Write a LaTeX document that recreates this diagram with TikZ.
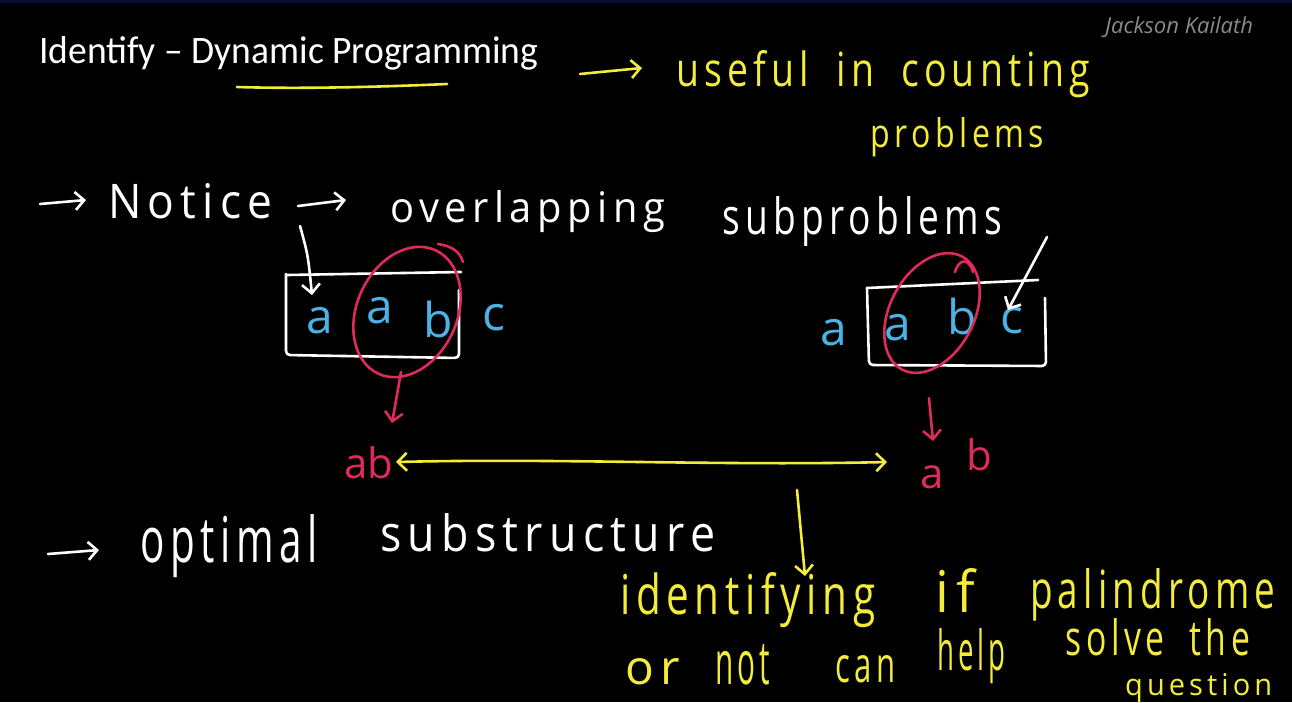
\documentclass[tikz,border=0pt]{standalone}
\usepackage{fontspec}
\usepackage{graphicx}
\usetikzlibrary{arrows.meta}
\setmainfont{Carlito}
\newfontfamily\handfont{Open Sans}[LetterSpace=14, WordSpace=1.8]
\newfontfamily\handtight{Open Sans}
\newfontfamily\signfont{Open Sans}
\definecolor{hwyellow}{HTML}{F4EC3A}
\definecolor{hwred}{HTML}{E02A5A}
\definecolor{hwblue}{HTML}{4BB2E6}
\definecolor{signgray}{HTML}{8A8A8A}
\definecolor{topband}{HTML}{0B0B3A}
% handwritten word: width, height, text
\newcommand{\hw}[3]{\resizebox{#1pt}{#2pt}{\handfont #3}}
\tikzset{
  hand/.style={inner sep=0pt, anchor=base west},
  letter/.style={inner sep=0pt, anchor=base, font=\handtight\fontsize{48}{48}\selectfont},
  redletter/.style={inner sep=0pt, anchor=base, text=hwred, font=\handtight\fontsize{42}{42}\selectfont},
  pen/.style={line width=2.6pt, line cap=round, line join=round},
  barb/.style={-{Straight Barb[length=9pt,width=18pt]}},
  dbarb/.style={{Straight Barb[length=9pt,width=18pt]}-{Straight Barb[length=9pt,width=18pt]}}
}
\begin{document}
\begin{tikzpicture}[x=1pt,y=-1pt]
\fill[black] (0,0) rectangle (1292,702);
\fill[topband] (0,0) rectangle (1292,3);
\useasboundingbox (0,0) rectangle (1292,702);

% heading and author
\node[anchor=base west, inner sep=0pt, text=white] (title) at (39,63)
  {\resizebox{499pt}{27pt}{Identify – Dynamic Programming}};
\node[anchor=base west, inner sep=0pt, text=signgray] (author) at (1105,33)
  {\resizebox{148pt}{!}{\signfont\itshape Jackson Kailath}};
\coordinate (ulA) at (237,87);
\coordinate (ulB) at (447,84);
\draw[pen, hwyellow] (ulA) .. controls (300,89) and (380,87) .. (ulB);

% yellow note at the top
\coordinate (n1a) at (580,74);
\coordinate (n1b) at (642,68);
\draw[pen, hwyellow, barb] (n1a) -- (n1b);
\node[hand, text=hwyellow] (useful) at (676,86) {\hw{414}{36}{useful in counting}};
\node[hand, text=hwyellow] (problems) at (870,147) {\hw{174}{30}{problems}};

% notice line
\coordinate (a1a) at (40,204);
\coordinate (a1b) at (86,200);
\draw[pen, white, barb] (a1a) -- (a1b);
\node[hand, text=white] (notice) at (108,218) {\hw{164}{35}{Notice}};
\coordinate (a2a) at (298,206);
\coordinate (a2b) at (346,200);
\draw[pen, white, barb] (a2a) -- (a2b);
\node[hand, text=white] (overlap) at (390,222) {\hw{275}{32}{overlapping}};
\node[hand, text=white] (subp) at (722,234) {\hw{280}{38}{subproblems}};

% left string
\draw[pen, white, rounded corners=4pt] (286,274) -- (286,355) -- (459,358) -- (459,290);
\draw[pen, white] (287,275) -- (461,272);
\node[letter, text=hwblue] (la1) at (320,333) {a};
\node[letter, text=hwblue] (la2) at (380,323) {a};
\node[letter, text=hwblue] (lb)  at (438,337) {b};
\node[letter, text=hwblue] (lc)  at (494,330) {c};
\coordinate (wl0) at (300,226);
\coordinate (wl1) at (312,295);
\draw[pen, white, barb] (wl0) .. controls (308,255) .. (wl1);
\draw[pen, hwred, shift={(407,312)}, rotate=-25] (0,0) ellipse [x radius=50pt, y radius=68pt];
\draw[pen, hwred] (438,244) .. controls (452,246) and (460,252) .. (463,262);
\coordinate (rl0) at (401,372);
\coordinate (rl1) at (392,423);
\draw[pen, hwred, barb] (rl0) -- (rl1);
\node[redletter] (ab) at (369,478) {ab};

% right string
\draw[pen, white, rounded corners=4pt] (867,288) -- (869,365) -- (1046,366) -- (1045,298);
\draw[pen, white] (867,288) -- (1038,280);
\node[letter, text=hwblue] (ra0) at (834,345) {a};
\node[letter, text=hwblue] (ra1) at (898,340) {a};
\node[letter, text=hwblue] (rb)  at (962,334) {b};
\node[letter, text=hwblue] (rc)  at (1012,333) {c};
\coordinate (wr0) at (1047,237);
\coordinate (wr1) at (1008,310);
\draw[pen, white, barb] (wr0) -- (wr1);
\draw[pen, hwred, shift={(932,313)}, rotate=-28] (0,0) ellipse [x radius=42pt, y radius=64pt];
\draw[pen, hwred] (955,272) .. controls (959,258) and (969,258) .. (973,272);
\coordinate (rr0) at (929,398);
\coordinate (rr1) at (933,441);
\draw[pen, hwred, barb] (rr0) -- (rr1);
\node[redletter] (ra) at (932,488) {a};
\node[redletter] (rbb) at (979,470) {b};

% link between the two results
\coordinate (lk0) at (396,462);
\coordinate (lk1) at (887,462);
\draw[pen, hwyellow, dbarb] (lk0) .. controls (560,458) and (720,466) .. (lk1);

% optimal substructure line
\coordinate (a3a) at (48,554);
\coordinate (a3b) at (99,550);
\draw[pen, white, barb] (a3a) -- (a3b);
\node[hand, text=white] (optimal) at (140,562) {\hw{178}{48}{optimal}};
\node[hand, text=white] (substr) at (380,551) {\hw{335}{38}{substructure}};

% yellow note at the bottom
\coordinate (yd0) at (797,490);
\coordinate (yd1) at (805,576);
\draw[pen, hwyellow, barb] (yd0) -- (yd1);
\node[hand, text=hwyellow] (ident) at (620,614) {\hw{255}{42}{identifying}};
\node[hand, text=hwyellow] (if) at (935,612) {\hw{40}{44}{if}};
\node[hand, text=hwyellow] (palin) at (1030,608) {\hw{245}{40}{palindrome}};
\node[hand, text=hwyellow] (or) at (625,684) {\hw{55}{26}{or}};
\node[hand, text=hwyellow] (not) at (715,684) {\hw{55}{40}{not}};
\node[hand, text=hwyellow] (can) at (835,682) {\hw{60}{27}{can}};
\node[hand, text=hwyellow] (help) at (937,670) {\hw{68}{42}{help}};
\node[hand, text=hwyellow] (solve) at (1065,655) {\hw{185}{37}{solve the}};
\node[hand, text=hwyellow] (question) at (1125,695) {\hw{147}{22}{question}};
\end{tikzpicture}
\end{document}
